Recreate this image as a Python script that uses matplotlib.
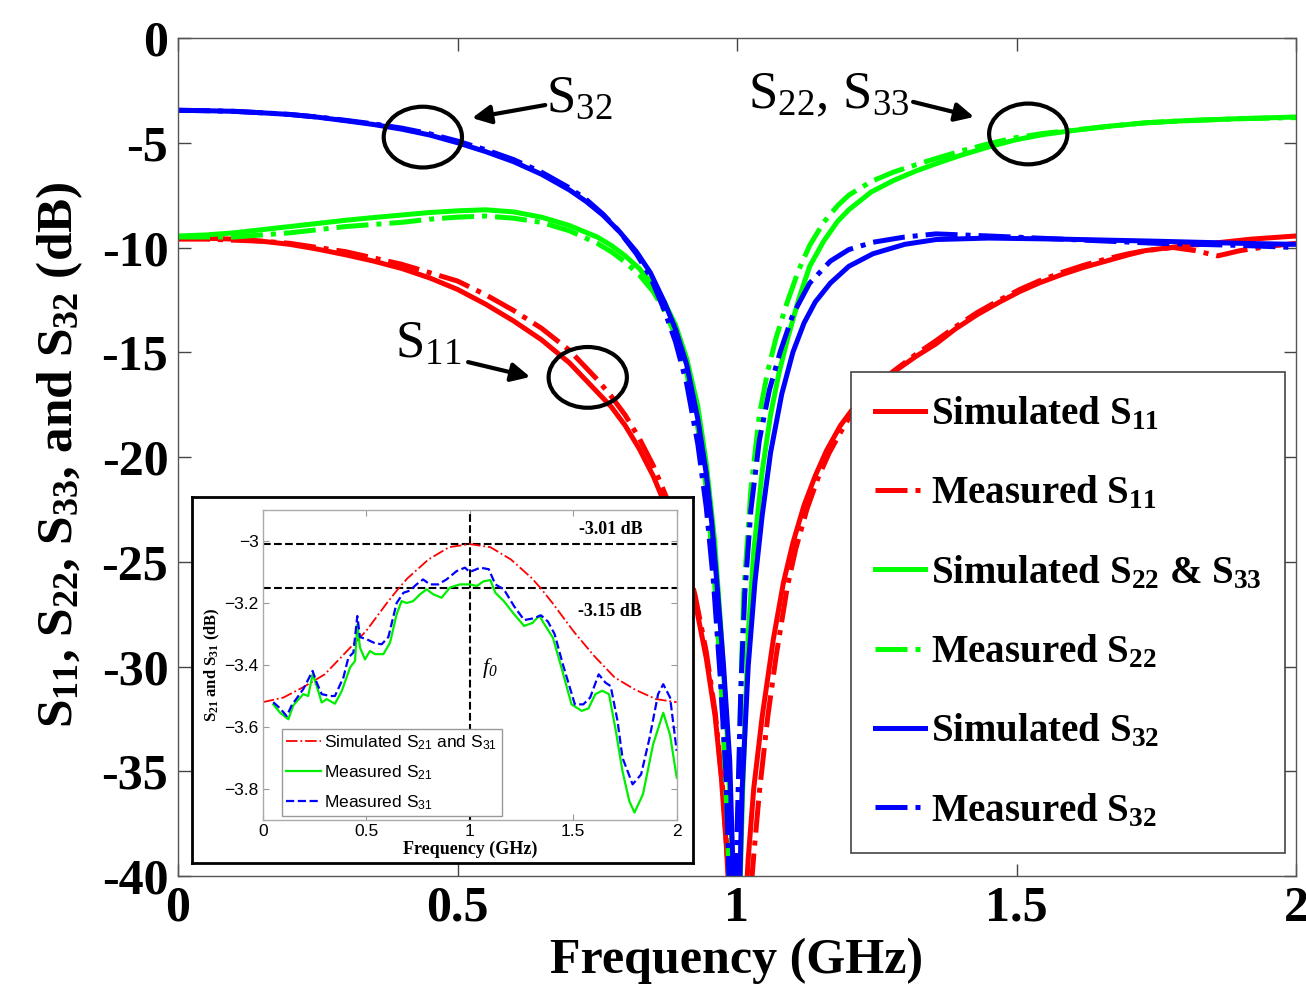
import numpy as np
import matplotlib
matplotlib.use('Agg')
import matplotlib.pyplot as plt
from matplotlib.patches import Ellipse

plt.rcParams['font.family'] = 'Liberation Serif'
plt.rcParams['mathtext.default'] = 'regular'
plt.rcParams['axes.unicode_minus'] = False

# ---- main chart: reflection / isolation (GHz, dB) ----
f_s11_sim = [0, 0.05, 0.1, 0.15, 0.2, 0.25, 0.3, 0.35, 0.4, 0.45, 0.5, 0.55, 0.6, 0.65, 0.7, 0.75,
             0.775, 0.8, 0.825, 0.85, 0.875, 0.9, 0.925, 0.945, 0.961, 0.972, 0.981, 0.99, 1.0,
             1.01, 1.02, 1.03, 1.045, 1.065, 1.083, 1.1, 1.12, 1.14, 1.16, 1.185, 1.21, 1.245, 1.28,
             1.32, 1.356, 1.39, 1.43, 1.47, 1.506, 1.54, 1.58, 1.62, 1.66, 1.7, 1.73, 1.79, 1.85,
             1.92, 2.0]
s11_sim = [-9.55, -9.56, -9.6, -9.7, -9.85, -10.08, -10.35, -10.65, -11.0, -11.45, -12.0, -12.7,
           -13.5, -14.4, -15.5, -16.9, -17.6, -18.5, -19.6, -20.9, -22.5, -24.4, -26.9, -29.6, -32.4,
           -35.3, -38.6, -43, -50, -44, -39.2, -35.8, -32.4, -28.7, -26.0, -24.1, -22.3, -20.9,
           -19.7, -18.5, -17.6, -16.7, -15.95, -15.2, -14.6, -13.9, -13.2, -12.6, -12.1, -11.7,
           -11.3, -10.95, -10.65, -10.35, -10.15, -9.95, -9.8, -9.6, -9.45]

f_s11_meas = [0, 0.05, 0.1, 0.15, 0.2, 0.25, 0.3, 0.35, 0.4, 0.45, 0.5, 0.55, 0.6, 0.65, 0.7, 0.75,
              0.775, 0.8, 0.825, 0.85, 0.875, 0.9, 0.925, 0.945, 0.961, 0.975, 0.985, 1.0, 1.015,
              1.03, 1.04, 1.055, 1.07, 1.09, 1.105, 1.125, 1.145, 1.165, 1.19, 1.21, 1.245, 1.28,
              1.32, 1.356, 1.39, 1.43, 1.47, 1.506, 1.54, 1.58, 1.62, 1.66, 1.7, 1.73, 1.78, 1.82,
              1.86, 1.9, 1.95, 2.0]
s11_meas = [-9.6, -9.6, -9.65, -9.7, -9.8, -10.0, -10.2, -10.5, -10.8, -11.2, -11.6, -12.25, -13.0,
            -13.85, -14.9, -16.3, -17.1, -18.0, -19.1, -20.4, -22.0, -24.0, -26.6, -29.3, -32.2,
            -36, -40, -48, -44, -39.0, -36, -32.4, -29.5, -26.2, -24.4, -22.5, -21.0, -19.8, -18.6,
            -17.7, -16.7, -15.9, -15.1, -14.45, -13.8, -13.1, -12.5, -12.0, -11.6, -11.2, -10.85,
            -10.55, -10.3, -10.15, -10.0, -10.15, -10.4, -10.15, -9.95, -9.8]

f_s22_sim = [0, 0.05, 0.1, 0.15, 0.2, 0.25, 0.3, 0.35, 0.4, 0.45, 0.5, 0.55, 0.6, 0.65, 0.7, 0.75,
             0.775, 0.8, 0.825, 0.85, 0.87, 0.89, 0.91, 0.93, 0.945, 0.96, 0.972, 0.982, 0.99, 1.0,
             1.01, 1.02, 1.03, 1.045, 1.06, 1.075, 1.09, 1.11, 1.13, 1.155, 1.18, 1.2, 1.24, 1.28,
             1.32, 1.356, 1.4, 1.45, 1.5, 1.55, 1.6, 1.67, 1.73, 1.8, 1.9, 2.0]
s22_sim = [-9.45, -9.4, -9.3, -9.15, -9.0, -8.85, -8.7, -8.57, -8.45, -8.33, -8.25, -8.2, -8.3,
           -8.55, -8.95, -9.5, -9.9, -10.4, -11.0, -11.8, -12.6, -13.7, -15.3, -17.6, -20.3, -24.0,
           -28.5, -33, -38, -46, -36, -28.5, -24.5, -20.7, -18.0, -16.0, -14.4, -12.5, -10.9, -9.7,
           -8.75, -8.2, -7.35, -6.8, -6.35, -6.0, -5.6, -5.2, -4.85, -4.6, -4.42, -4.2, -4.05,
           -3.95, -3.85, -3.77]

f_s22_meas = [0, 0.05, 0.1, 0.15, 0.2, 0.25, 0.3, 0.35, 0.4, 0.45, 0.5, 0.55, 0.6, 0.65, 0.7,
              0.75, 0.775, 0.8, 0.825, 0.85, 0.87, 0.89, 0.91, 0.93, 0.945, 0.96, 0.972, 0.982,
              0.993, 1.0, 1.006, 1.012, 1.025, 1.04, 1.055, 1.07, 1.09, 1.11, 1.13, 1.155, 1.18,
              1.2, 1.24, 1.28, 1.32, 1.356, 1.4, 1.45, 1.5, 1.55, 1.6, 1.67, 1.73, 1.8, 1.9, 2.0]
s22_meas = [-9.5, -9.5, -9.5, -9.4, -9.3, -9.15, -9.0, -8.9, -8.8, -8.65, -8.55, -8.5, -8.6, -8.8,
            -9.2, -9.8, -10.2, -10.7, -11.3, -12.1, -13.0, -14.2, -16.0, -18.6, -21.5, -26.0, -31,
            -37, -46, -40, -32, -26.5, -21.5, -18.0, -15.9, -14.3, -12.6, -11.1, -9.9, -8.8, -8.0,
            -7.5, -6.85, -6.4, -6.05, -5.75, -5.4, -5.05, -4.75, -4.55, -4.4, -4.2, -4.05, -3.95,
            -3.85, -3.8]

f_s32_sim = [0, 0.05, 0.1, 0.15, 0.2, 0.25, 0.3, 0.35, 0.4, 0.45, 0.5, 0.55, 0.6, 0.65, 0.7, 0.73,
             0.76, 0.79, 0.82, 0.845, 0.87, 0.89, 0.91, 0.93, 0.945, 0.955, 0.964, 0.976, 0.987,
             1.0, 1.009, 1.02, 1.032, 1.045, 1.06, 1.08, 1.1, 1.12, 1.14, 1.167, 1.2, 1.243, 1.3,
             1.356, 1.45, 1.58, 1.75, 1.9, 2.0]
s32_sim = [-3.45, -3.47, -3.5, -3.57, -3.65, -3.78, -3.95, -4.13, -4.35, -4.63, -5.0, -5.42, -5.9,
           -6.5, -7.25, -7.8, -8.45, -9.25, -10.2, -11.2, -12.6, -13.9, -15.6, -18.2, -20.8, -23.2,
           -26.0, -30, -34.5, -46, -36, -30, -26.0, -22.8, -19.8, -17.0, -15.0, -13.6, -12.6, -11.7,
           -10.9, -10.3, -9.85, -9.62, -9.55, -9.6, -9.7, -9.8, -9.85]

f_s32_meas = [0, 0.05, 0.1, 0.15, 0.2, 0.25, 0.3, 0.35, 0.4, 0.45, 0.5, 0.55, 0.6, 0.65, 0.7, 0.73,
              0.76, 0.79, 0.82, 0.845, 0.87, 0.89, 0.91, 0.93, 0.945, 0.958, 0.97, 0.98, 0.992,
              1.0, 1.007, 1.014, 1.025, 1.04, 1.058, 1.077, 1.1, 1.13, 1.167, 1.2, 1.243, 1.3,
              1.356, 1.45, 1.58, 1.75, 1.9, 2.0]
s32_meas = [-3.45, -3.47, -3.5, -3.57, -3.65, -3.77, -3.93, -4.1, -4.3, -4.57, -4.92, -5.33, -5.8,
            -6.4, -7.15, -7.7, -8.4, -9.25, -10.3, -11.4, -13.0, -14.5, -16.5, -19.4, -22.4, -26.0,
            -30.5, -35, -46, -38, -31, -26.5, -22.5, -19.2, -16.8, -15.0, -13.2, -11.7, -10.65,
            -10.1, -9.75, -9.5, -9.35, -9.45, -9.6, -9.8, -9.9, -10.0]

# ---- inset: transmission S21 / S31 (GHz, dB) ----
f_s21_sim = [0, 0.1, 0.2, 0.3, 0.4, 0.5, 0.6, 0.66, 0.7, 0.8, 0.9, 1.0, 1.1, 1.2, 1.3, 1.34, 1.4,
             1.5, 1.6, 1.7, 1.8, 1.9, 2.0]
s21_sim = [-3.52, -3.505, -3.47, -3.43, -3.36, -3.29, -3.2, -3.15, -3.12, -3.06, -3.02, -3.01, -3.02,
           -3.06, -3.12, -3.15, -3.2, -3.29, -3.37, -3.44, -3.48, -3.51, -3.52]

f_s21_meas = [0.051, 0.084, 0.124, 0.148, 0.196, 0.22, 0.241, 0.261, 0.285, 0.309, 0.349, 0.382,
              0.422, 0.446, 0.457, 0.47, 0.494, 0.518, 0.543, 0.583, 0.615, 0.647, 0.671, 0.695,
              0.727, 0.76, 0.792, 0.824, 0.864, 0.905, 0.953, 1.0, 1.035, 1.067, 1.1, 1.124, 1.165,
              1.214, 1.263, 1.304, 1.337, 1.353, 1.402, 1.443, 1.492, 1.541, 1.574, 1.607, 1.64,
              1.673, 1.706, 1.738, 1.771, 1.796, 1.837, 1.886, 1.935, 1.968, 2.0]
s21_meas = [-3.527, -3.554, -3.575, -3.53, -3.494, -3.50, -3.43, -3.468, -3.521, -3.51, -3.525,
            -3.484, -3.408, -3.387, -3.269, -3.344, -3.382, -3.355, -3.365, -3.365, -3.328, -3.236,
            -3.194, -3.20, -3.194, -3.172, -3.156, -3.172, -3.183, -3.15, -3.14, -3.14, -3.145,
            -3.13, -3.126, -3.167, -3.194, -3.236, -3.274, -3.264, -3.24, -3.26, -3.312, -3.408,
            -3.527, -3.548, -3.54, -3.494, -3.483, -3.494, -3.613, -3.742, -3.839, -3.876, -3.817,
            -3.656, -3.554, -3.626, -3.763]

f_s31_meas = [0.051, 0.084, 0.116, 0.14, 0.196, 0.241, 0.261, 0.285, 0.325, 0.349, 0.39, 0.414,
              0.438, 0.457, 0.47, 0.502, 0.543, 0.575, 0.607, 0.647, 0.68, 0.711, 0.743, 0.775,
              0.808, 0.848, 0.888, 0.937, 0.977, 1.0, 1.051, 1.092, 1.124, 1.165, 1.214, 1.263,
              1.304, 1.345, 1.378, 1.41, 1.451, 1.508, 1.549, 1.582, 1.623, 1.656, 1.681, 1.714,
              1.738, 1.787, 1.828, 1.869, 1.91, 1.935, 1.968, 2.0]
s31_meas = [-3.52, -3.54, -3.565, -3.53, -3.478, -3.419, -3.457, -3.494, -3.5, -3.50, -3.44, -3.376,
            -3.36, -3.242, -3.31, -3.317, -3.33, -3.333, -3.31, -3.20, -3.167, -3.16, -3.14, -3.124,
            -3.14, -3.14, -3.124, -3.097, -3.086, -3.1, -3.086, -3.091, -3.14, -3.156, -3.21, -3.255,
            -3.25, -3.24, -3.26, -3.30, -3.40, -3.527, -3.527, -3.505, -3.43, -3.457, -3.468, -3.58,
            -3.699, -3.785, -3.753, -3.635, -3.494, -3.462, -3.505, -3.677]

W, H = 1306, 990
fig = plt.figure(figsize=(W / 100, H / 100), dpi=100)
ax = fig.add_axes([178 / W, (H - 876) / H, (1296 - 178) / W, (876 - 38) / H])

lw = 3.6
ax.plot(f_s11_sim, s11_sim, '-', color='#ff0000', lw=lw, label='Simulated S$_{11}$')
ax.plot(f_s11_meas, s11_meas, '-.', color='#ff0000', lw=lw, label='Measured S$_{11}$')
ax.plot(f_s22_sim, s22_sim, '-', color='#00ff00', lw=lw, label='Simulated S$_{22}$ & S$_{33}$')
ax.plot(f_s22_meas, s22_meas, '-.', color='#00ff00', lw=lw, label='Measured S$_{22}$')
ax.plot(f_s32_sim, s32_sim, '-', color='#0000ff', lw=lw, label='Simulated S$_{32}$')
ax.plot(f_s32_meas, s32_meas, '-.', color='#0000ff', lw=lw, label='Measured S$_{32}$')

ax.set_xlim(0, 2)
ax.set_ylim(-40, 0)
ax.set_xticks([0, 0.5, 1, 1.5, 2])
ax.set_xticklabels(['0', '0.5', '1', '1.5', '2'])
ax.set_yticks(range(-40, 1, 5))
ax.tick_params(direction='in', length=9, width=1, top=True, right=True,
               labelsize=36, pad=7, color='#444444')
for lab in ax.get_xticklabels() + ax.get_yticklabels():
    lab.set_fontweight('bold')
for s in ax.spines.values():
    s.set_color('#555555')
    s.set_linewidth(1)
ax.set_xlabel('Frequency (GHz)', fontsize=36, fontweight='bold', labelpad=4)
fig.text(60 / W, 1 - 455 / H, 'S$_{11}$, S$_{22}$, S$_{33}$, and S$_{32}$ (dB)', rotation=90,
         ha='center', va='center', fontsize=37, fontweight='bold')

leg = ax.legend(loc='lower right', bbox_to_anchor=(0.990, 0.027), borderaxespad=0,
                prop={'weight': 'bold', 'size': 28}, handlelength=1.3, handletextpad=0.15,
                labelspacing=1.07, borderpad=0.6, fancybox=False, edgecolor='#444444',
                framealpha=1)
leg.get_frame().set_linewidth(1.2)

# circles and arrows
for cx, cy in [(0.438, -4.73), (0.733, -16.2), (1.521, -4.58)]:
    ax.add_patch(Ellipse((cx, cy), 0.14, 2.9, fill=False, ec='k', lw=3, zorder=5))
arrow = dict(arrowstyle='-|>', color='k', lw=3, mutation_scale=28, shrinkA=0, shrinkB=0)
ax.annotate('', xy=(0.526, -3.82), xytext=(0.657, -3.2), arrowprops=arrow)
ax.annotate('', xy=(0.630, -16.18), xytext=(0.519, -15.47), arrowprops=arrow)
ax.annotate('', xy=(1.424, -3.77), xytext=(1.315, -3.05), arrowprops=arrow)
ax.text(0.658, -3.53, 'S$_{32}$', fontsize=38, ha='left', va='baseline')
ax.text(0.388, -15.27, 'S$_{11}$', fontsize=38, ha='left', va='baseline')
ax.text(1.020, -3.34, 'S$_{22}$, S$_{33}$', fontsize=38, ha='left', va='baseline')

# inset frame
frame = fig.add_axes([192 / W, (H - 863) / H, 501 / W, 366 / H])
frame.set_xticks([])
frame.set_yticks([])
for s in frame.spines.values():
    s.set_color('k')
    s.set_linewidth(2)

ins = fig.add_axes([262.7 / W, (H - 820) / H, 414 / W, 310 / H])
ins.axhline(-3.01, color='k', ls='--', lw=1.5)
ins.axhline(-3.15, color='k', ls='--', lw=1.5)
ins.axvline(1.0, color='k', ls='--', lw=1.5)
ins.plot(f_s21_sim, s21_sim, '-.', color='#ff0000', lw=1.3, label='Simulated S$_{21}$ and S$_{31}$')
ins.plot(f_s21_meas, s21_meas, '-', color='#00ee00', lw=1.6, label='Measured S$_{21}$')
ins.plot(f_s31_meas, s31_meas, '--', color='#0000ff', lw=1.6, label='Measured S$_{31}$')
ins.set_xlim(0, 2)
ins.set_ylim(-3.9, -2.9)
ins.set_xticks([0, 0.5, 1, 1.5, 2])
ins.set_yticks([-3.8, -3.6, -3.4, -3.2, -3.0])
ins_font = 'Liberation Sans'
ins.set_xticklabels(['0', '0.5', '1', '1.5', '2'], family=ins_font, fontsize=12.5)
ins.set_yticklabels(['\u22123.8', '\u22123.6', '\u22123.4', '\u22123.2', '\u22123'],
                    family=ins_font, fontsize=12.5)
ins.tick_params(direction='in', length=4, width=0.8, top=True, right=True, pad=3, color='#999999')
for s in ins.spines.values():
    s.set_color('#aaaaaa')
    s.set_linewidth(1)
ins.set_xlabel('Frequency (GHz)', fontsize=13, fontweight='bold', labelpad=1)
ins.set_ylabel('S$_{21}$ and S$_{31}$ (dB)', fontsize=12, fontweight='bold', labelpad=2)
ins.text(1.53, -2.962, '-3.01 dB', fontsize=13, fontweight='bold', va='center')
ins.text(1.525, -3.226, '-3.15 dB', fontsize=13, fontweight='bold', va='center')
ins.text(1.06, -3.41, '$f_0$', fontsize=16, fontstyle='italic', va='center')
ileg = ins.legend(loc='lower left', bbox_to_anchor=(0.046, 0.013), borderaxespad=0,
                  prop={'family': ins_font, 'size': 12.5}, handlelength=2.0, handletextpad=0.2,
                  labelspacing=0.65, borderpad=0.25, fancybox=False, edgecolor='#999999',
                  framealpha=1)

fig.savefig('out.png', dpi=100)
